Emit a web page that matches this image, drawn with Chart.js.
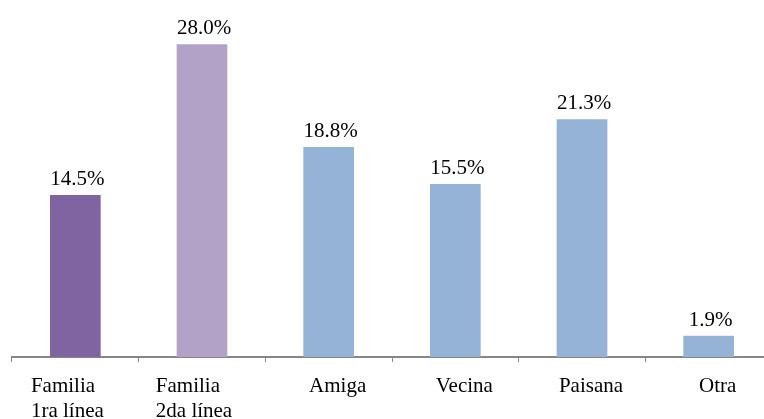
<!DOCTYPE html>
<html>
<head>
<meta charset="utf-8">
<script src="https://cdn.jsdelivr.net/npm/chart.js@4/dist/chart.umd.min.js"></script>
<style>
  html, body { margin:0; padding:0; background:#fff; overflow:hidden; }
  #wrap { width:772px; height:419px; position:relative; }
</style>
</head>
<body>
<div id="wrap"><canvas id="chart"></canvas></div>
<script>
/* datos */
const categories = [["Familia", "1ra línea"], ["Familia", "2da línea"], "Amiga", "Vecina", "Paisana", "Otra"];
const values = [14.5, 28.0, 18.8, 15.5, 21.3, 1.9];
const barColors = ["#8064A2", "#B3A2C7", "#95B3D7", "#95B3D7", "#95B3D7", "#95B3D7"];

const FONT = "'Liberation Serif', 'Times New Roman', serif";

/* etiquetas de valor sobre las barras */
const valueLabels = {
  id: "valueLabels",
  afterDatasetsDraw(chart) {
    const ctx = chart.ctx;
    const meta = chart.getDatasetMeta(0);
    ctx.save();
    ctx.font = "21px " + FONT;
    ctx.fillStyle = "#000";
    ctx.textAlign = "center";
    ctx.textBaseline = "alphabetic";
    meta.data.forEach((bar, i) => {
      ctx.fillText(values[i].toFixed(1) + "%", bar.x + 2, bar.y - 10);
    });
    ctx.restore();
  }
};

/* etiquetas del eje x (lineas alineadas a la izquierda, como en Excel) */
const xLabels = {
  id: "xLabels",
  afterDraw(chart) {
    const ctx = chart.ctx;
    const xs = chart.scales.x;
    ctx.save();
    ctx.font = "21px " + FONT;
    ctx.fillStyle = "#000";
    ctx.textAlign = "left";
    ctx.textBaseline = "alphabetic";
    categories.forEach((lab, i) => {
      const lines = Array.isArray(lab) ? lab : [lab];
      const w = Math.max(...lines.map(l => ctx.measureText(l).width));
      const cx = xs.getPixelForValue(i) + (lines.length > 1 ? -8 : 9);
      lines.forEach((l, j) => {
        ctx.fillText(l, cx - w / 2, xs.top + 35 + j * 25);
      });
    });
    ctx.restore();
  }
};

new Chart(document.getElementById("chart"), {
  type: "bar",
  data: {
    labels: categories,
    datasets: [{
      data: values,
      backgroundColor: barColors,
      borderWidth: 0,
      barPercentage: 0.4,
      categoryPercentage: 1.0
    }]
  },
  options: {
    responsive: true,
    maintainAspectRatio: false,
    animation: false,
    layout: { padding: { left: 12, right: 0, top: 22, bottom: 0 } },
    plugins: { legend: { display: false }, tooltip: { enabled: false } },
    scales: {
      y: { display: false, min: 0, max: 30 },
      x: {
        afterFit(scale) { scale.height = 62; },
        border: { color: "#868686", width: 2 },
        grid: { drawOnChartArea: false, color: "#868686", tickLength: 5, lineWidth: 1, offset: true },
        ticks: { display: false }
      }
    }
  },
  plugins: [valueLabels, xLabels]
});
</script>
</body>
</html>
